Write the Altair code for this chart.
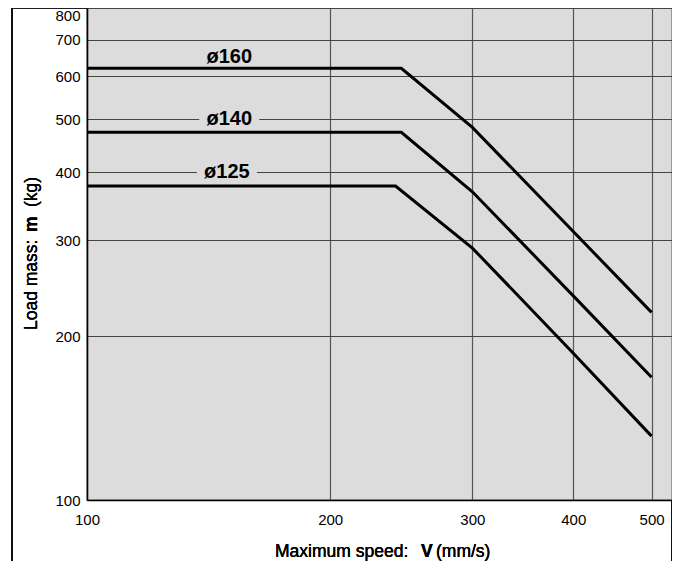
import altair as alt
import pandas as pd

# ---- data ----
series = ["ø160", "ø140", "ø125"]
speed_160 = [100, 245, 300, 400, 500]
mass_160 = [620, 620, 483, 311, 221]
speed_140 = [100, 245, 300, 400, 500]
mass_140 = [473, 473, 368, 237, 168]
speed_125 = [100, 241, 300, 400, 500]
mass_125 = [377, 377, 290, 186, 131]

label_x = [150, 150, 149]
label_y = [650, 500, 400]

x_ticks = [100, 200, 300, 400, 500]
y_ticks = [100, 200, 300, 400, 500, 600, 700, 800]

FONT = "Liberation Sans"
BG = "#dcdcdc"

rows = []
for name, sp, ms in [("ø160", speed_160, mass_160),
                     ("ø140", speed_140, mass_140),
                     ("ø125", speed_125, mass_125)]:
    for s, m in zip(sp, ms):
        rows.append({"series": name, "speed": s, "mass": m})
df = pd.DataFrame(rows)
lab = pd.DataFrame({"series": series, "x": label_x, "y": label_y})

xs = alt.Scale(type="log", domain=[100, 530], nice=False)
ys = alt.Scale(type="log", domain=[100, 800], nice=False)

xaxis = alt.Axis(values=x_ticks, title=None, grid=True, gridColor="#555555",
                 gridWidth=1.2, ticks=False, domainColor="black", domainWidth=1.5,
                 labelFont=FONT, labelFontSize=15, labelColor="black",
                 labelPadding=12, labelFlush=False, labelOverlap=False, format="d")
yaxis = alt.Axis(values=y_ticks, title=None, grid=True, gridColor="#444444",
                 gridWidth=1, ticks=False, domainColor="black", domainWidth=1.5,
                 labelFont=FONT, labelFontSize=15, labelColor="black",
                 labelPadding=7, labelFlush=False, labelOverlap=False, format="d",
                 labelBaseline={"condition": {"test": "datum.value == 800",
                                              "value": "top"},
                                "value": "middle"})

lines = alt.Chart(df).mark_line(color="black", strokeWidth=3, strokeCap="butt",
                                strokeJoin="miter").encode(
    x=alt.X("speed:Q", scale=xs, axis=xaxis),
    y=alt.Y("mass:Q", scale=ys, axis=yaxis),
    detail="series:N",
)

rects = alt.Chart(lab).mark_rect(color=BG, width=60, height=18).encode(
    x=alt.X("x:Q", scale=xs),
    y=alt.Y("y:Q", scale=ys),
)

labels = alt.Chart(lab).mark_text(font=FONT, fontSize=20, fontWeight="bold",
                                  color="black", baseline="middle",
                                  align="center").encode(
    x=alt.X("x:Q", scale=xs),
    y=alt.Y("y:Q", scale=ys),
    text="series:N",
)

# axis titles (mixed bold pieces)
def txt(t, x, y, bold=False, angle=0):
    kw = dict(text=t, font=FONT, fontSize=17.5, color="black", align="left",
              baseline="alphabetic", fontWeight="bold" if bold else "normal")
    if angle:
        kw["angle"] = angle
    return alt.Chart(lab).mark_text(**kw).encode(x=alt.value(x), y=alt.value(y))

xt1 = txt("Maximum speed:", 188, 549)
xt2 = txt("V", 334, 549, bold=True)
xt3 = txt("(mm/s)", 349, 549)
yt1 = txt("Load mass:", -50, 322, angle=270)
yt2 = txt("m", -50, 224, bold=True, angle=270)
yt3 = txt("(kg)", -50, 199, angle=270)

frame_left = alt.Chart(lab).mark_rule(color="black", strokeWidth=1.2).encode(
    x=alt.value(-75), y=alt.value(0), y2=alt.value(553))
frame_top = alt.Chart(lab).mark_rule(color="black", strokeWidth=1.2).encode(
    x=alt.value(-75), x2=alt.value(0), y=alt.value(0))
frame_right = alt.Chart(lab).mark_rule(color="black", strokeWidth=1.2).encode(
    x=alt.value(585), y=alt.value(492), y2=alt.value(553))

chart = alt.layer(
    rects, lines, labels, xt1, xt2, xt3, yt1, yt2, yt3,
    frame_left, frame_top, frame_right
).properties(
    width=585, height=492,
    autosize=alt.AutoSizeParams(type="none"),
    padding={"left": 79, "top": 0, "right": 0, "bottom": 61},
    background="white",
).configure_view(
    fill=BG, stroke="black", strokeWidth=1.2
)

chart.save("out.html", embed_options={"renderer": "svg", "actions": False})
